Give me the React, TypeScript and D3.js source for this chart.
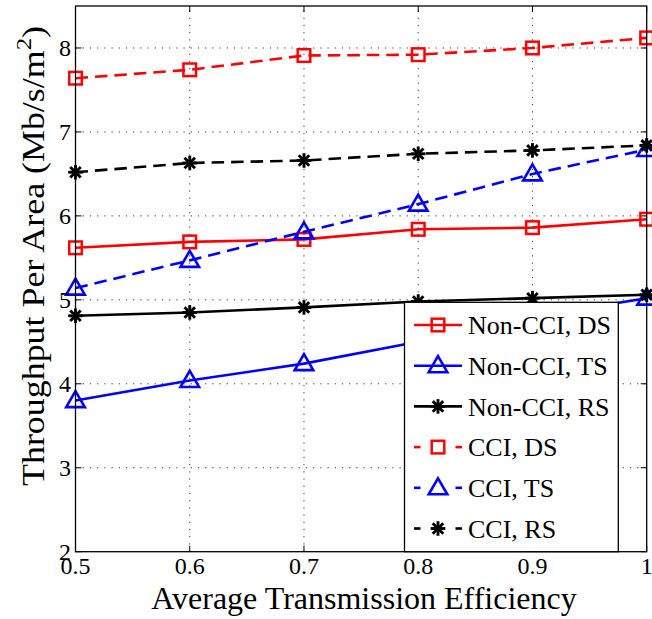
import React from "react";
import * as d3 from "d3";

// Average transmission efficiency (x) and throughput per area (Mb/s/m^2)
const efficiency = [0.5, 0.6, 0.7, 0.8, 0.9, 1.0];
const nonCciDS = [5.62, 5.69, 5.72, 5.84, 5.86, 5.96];
const nonCciTS = [3.8, 4.04, 4.24, 4.5, 4.8, 5.02];
const nonCciRS = [4.81, 4.85, 4.91, 4.98, 5.02, 5.06];
const cciDS = [7.64, 7.74, 7.91, 7.92, 8.0, 8.12];
const cciTS = [5.14, 5.47, 5.81, 6.14, 6.5, 6.79];
const cciRS = [6.52, 6.63, 6.66, 6.74, 6.78, 6.84];

const xTicks = [0.5, 0.6, 0.7, 0.8, 0.9, 1];
const yTicks = [2, 3, 4, 5, 6, 7, 8];

type Marker = "square" | "triangle" | "star";
interface Series {
  name: string;
  values: number[];
  color: string;
  dashed: boolean;
  marker: Marker;
}

const series: Series[] = [
  { name: "Non-CCI, DS", values: nonCciDS, color: "#ff0000", dashed: false, marker: "square" },
  { name: "Non-CCI, TS", values: nonCciTS, color: "#0000ff", dashed: false, marker: "triangle" },
  { name: "Non-CCI, RS", values: nonCciRS, color: "#000000", dashed: false, marker: "star" },
  { name: "CCI, DS", values: cciDS, color: "#ff0000", dashed: true, marker: "square" },
  { name: "CCI, TS", values: cciTS, color: "#0000ff", dashed: true, marker: "triangle" },
  { name: "CCI, RS", values: cciRS, color: "#000000", dashed: true, marker: "star" },
];

const W = 652;
const H = 619;
const left = 75.5;
const right = 646.7;
const top = 6;
const bottom = 551.7;
const FONT = "'Liberation Serif', 'Times New Roman', serif";

const x = d3.scaleLinear().domain([0.5, 1]).range([left, right]);
const y = d3.scaleLinear().domain([2, 8.5]).range([bottom, top]);

function MarkerShape({ kind, cx, cy, color }: { kind: Marker; cx: number; cy: number; color: string }) {
  if (kind === "square") {
    return <rect x={cx - 6.3} y={cy - 6.3} width={12.6} height={12.6} fill="none" stroke={color} strokeWidth={2.5} />;
  }
  if (kind === "triangle") {
    const p = `M${cx},${cy - 9.5} L${cx + 9.3},${cy + 6.5} L${cx - 9.3},${cy + 6.5} Z`;
    return <path d={p} fill="none" stroke={color} strokeWidth={2.6} strokeLinejoin="miter" />;
  }
  const r = 7.3;
  const d = r * 0.72;
  return (
    <g stroke={color} strokeWidth={2.9}>
      <line x1={cx - r} y1={cy} x2={cx + r} y2={cy} />
      <line x1={cx} y1={cy - r} x2={cx} y2={cy + r} />
      <line x1={cx - d} y1={cy - d} x2={cx + d} y2={cy + d} />
      <line x1={cx - d} y1={cy + d} x2={cx + d} y2={cy - d} />
    </g>
  );
}

export default function App() {
  const line = d3
    .line<number>()
    .x((_, i) => x(efficiency[i]))
    .y((v) => y(v));

  const legendX0 = 404.5;
  const legendY0 = 302.3;
  const legendX1 = 618.3;
  const rowY0 = 325;
  const rowStep = 40.7;

  return (
    <svg
      width={W}
      height={H}
      style={{ position: "absolute", left: 0, top: 0, background: "#fff" }}
      fontFamily={FONT}
    >
      <rect x={0} y={0} width={W} height={H} fill="#fff" />
      {/* grid */}
      <g stroke="#333" strokeWidth={1} strokeDasharray="1.2,6">
        {xTicks.slice(1, -1).map((t) => (
          <line key={"gx" + t} x1={x(t)} x2={x(t)} y1={bottom} y2={top} />
        ))}
        {yTicks.slice(1).map((t) => (
          <line key={"gy" + t} x1={left} x2={right} y1={y(t)} y2={y(t)} />
        ))}
      </g>
      {/* inward ticks on all four sides */}
      <g stroke="#000" strokeWidth={1}>
        {xTicks.map((t) => (
          <g key={"tx" + t}>
            <line x1={x(t)} x2={x(t)} y1={bottom} y2={bottom - 6} />
            <line x1={x(t)} x2={x(t)} y1={top} y2={top + 6} />
          </g>
        ))}
        {yTicks.map((t) => (
          <g key={"ty" + t}>
            <line x1={left} x2={left + 6} y1={y(t)} y2={y(t)} />
            <line x1={right} x2={right - 6} y1={y(t)} y2={y(t)} />
          </g>
        ))}
      </g>
      {/* series */}
      {series.map((s) => (
        <g key={s.name}>
          <path
            d={line(s.values) || ""}
            fill="none"
            stroke={s.color}
            strokeWidth={2.6}
            strokeDasharray={s.dashed ? "12.5,7" : undefined}
          />
          {s.values.map((v, i) => (
            <MarkerShape key={i} kind={s.marker} cx={x(efficiency[i])} cy={y(v)} color={s.color} />
          ))}
        </g>
      ))}
      {/* axes box */}
      <rect x={left} y={top} width={right - left} height={bottom - top} fill="none" stroke="#000" strokeWidth={1.3} />
      {/* tick labels */}
      <g fontSize={24} fill="#000">
        {xTicks.map((t) => (
          <text key={"lx" + t} x={x(t)} y={574} textAnchor="middle">
            {d3.format("~g")(t)}
          </text>
        ))}
        {yTicks.map((t) => (
          <text key={"ly" + t} x={71} y={y(t)} dy="0.35em" textAnchor="end">
            {t}
          </text>
        ))}
      </g>
      {/* axis titles */}
      <text x={364} y={609} textAnchor="middle" fontSize={32}>
        Average Transmission Efficiency
      </text>
      <text
        transform="translate(44,256) rotate(-90)"
        textAnchor="middle"
        fontSize={32}
        textLength={460}
        lengthAdjust="spacingAndGlyphs"
      >
        Throughput Per Area (Mb/s/m
        <tspan fontSize={22} dy={-13}>2</tspan>
        <tspan dy={13}>)</tspan>
      </text>
      {/* legend */}
      <rect
        x={legendX0}
        y={legendY0}
        width={legendX1 - legendX0}
        height={bottom - legendY0}
        fill="#fff"
        stroke="#000"
        strokeWidth={1.3}
      />
      {series.map((s, i) => {
        const cy = rowY0 + i * rowStep;
        return (
          <g key={"lg" + s.name}>
            {s.dashed ? (
              <g stroke={s.color} strokeWidth={2.6}>
                <line x1={414} x2={420.5} y1={cy} y2={cy} />
                <line x1={455.5} x2={462} y1={cy} y2={cy} />
              </g>
            ) : (
              <line x1={414} x2={462} y1={cy} y2={cy} stroke={s.color} strokeWidth={2.6} />
            )}
            <MarkerShape kind={s.marker} cx={438} cy={cy} color={s.color} />
            <text x={468} y={cy} dy="0.35em" fontSize={26}>
              {s.name}
            </text>
          </g>
        );
      })}
    </svg>
  );
}
